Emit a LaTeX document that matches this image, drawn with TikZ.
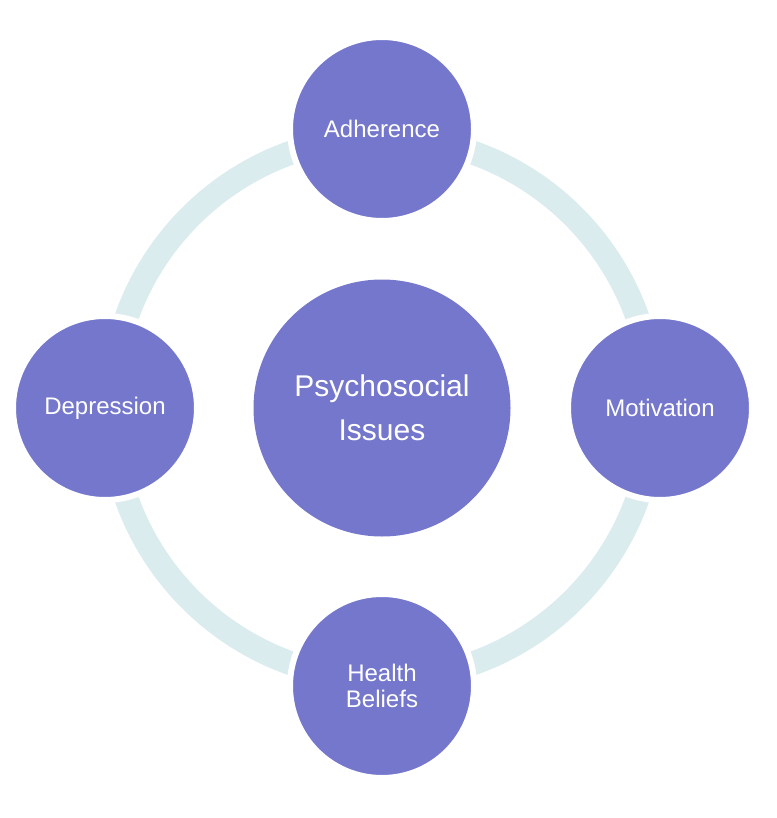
\documentclass[tikz,border=0pt]{standalone}
\usepackage{fontspec}
\setmainfont{Liberation Sans}
\definecolor{bubble}{RGB}{116,119,204}
\definecolor{ringc}{RGB}{219,236,238}
\tikzset{
  sat/.style={circle, fill=bubble, draw=white, line width=6pt, minimum size=184pt, inner sep=0pt,
    text=white, align=center, font=\fontsize{24}{26}\selectfont},
  hub/.style={circle, fill=bubble, minimum size=257pt, inner sep=0pt,
    text=white, align=center, font=\fontsize{30}{44}\selectfont},
  ringline/.style={draw=ringc, line width=24pt}
}
\begin{document}
\begin{tikzpicture}[x=1pt,y=-1pt]
\useasboundingbox (0,0) rectangle (776,818);
\coordinate (c) at (382,408);
\draw[ringline] (c) circle[radius=271];
\node[hub] (hubn) at (c) {Psychosocial\\Issues};
\node[sat] (top) at (382,129) {Adherence};
\node[sat] (left) at (105,408) {Depression};
\node[sat] (right) at (660,408) {Motivation};
\node[sat] (bottom) at (382,686) {Health\\Beliefs};
\end{tikzpicture}
\end{document}
